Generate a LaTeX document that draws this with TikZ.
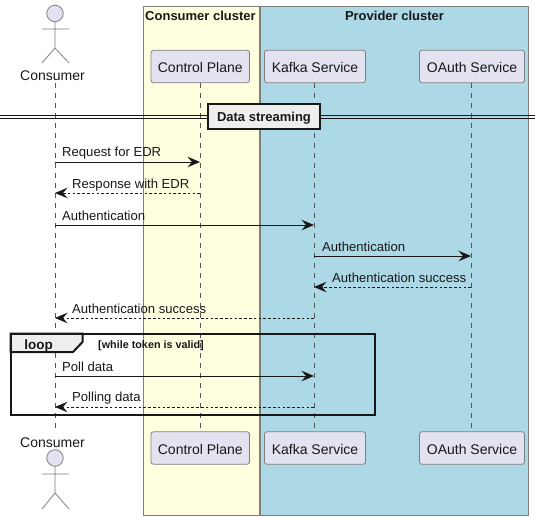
\documentclass[tikz,border=0pt]{standalone}
\usepackage{fontspec}
\setmainfont{Liberation Sans}
\usetikzlibrary{arrows.meta}
\definecolor{partfill}{HTML}{E2E2F0}
\definecolor{partline}{HTML}{7F7F7F}
\definecolor{ink}{HTML}{181818}
\definecolor{tabfill}{HTML}{EEEEEE}
\definecolor{lifeline}{HTML}{555555}
\tikzset{
  x=1pt,y=-1pt,
  boxcluster/.style={draw=partline,line width=.9pt,inner sep=0pt,anchor=north west},
  clustertitle/.style={font=\bfseries\fontsize{13}{15}\selectfont,text=ink,inner sep=0pt},
  part/.style={draw=partline,fill=partfill,rounded corners=2.5pt,line width=.8pt,inner sep=0pt,minimum height=32.5pt,text height=12pt,text depth=0pt,font=\fontsize{14}{16}\selectfont,text=ink},
  actorname/.style={font=\fontsize{14}{16}\selectfont,text=ink,inner sep=0pt},
  actorline/.style={draw=partline,line width=.8pt},
  actorhead/.style={circle,draw=partline,fill=partfill,line width=.8pt,minimum size=16.5pt,inner sep=0pt},
  life/.style={draw=lifeline,line width=.7pt,dash pattern=on 5pt off 5pt},
  tip/.style={-{Stealth[length=12.5pt,width=10.5pt,inset=4.5pt]}},
  msg/.style={draw=ink,line width=.95pt,tip},
  reply/.style={draw=ink,line width=.9pt,dash pattern=on 2.6pt off 2.2pt,tip},
  msglabel/.style={font=\fontsize{13.1}{15}\selectfont,text=ink,inner sep=0pt,anchor=west},
  frameline/.style={draw=ink,line width=2pt},
}
\begin{document}
\begin{tikzpicture}
\useasboundingbox (0,0) rectangle (535,519);
% clusters
\fill[white] (0,0) rectangle (535,519);
\node[boxcluster,fill={rgb,255:red,255;green,255;blue,224},minimum width=116pt,minimum height=508pt] (cc) at (142.5,6.5) {};
\node[boxcluster,fill={rgb,255:red,173;green,216;blue,230},minimum width=268pt,minimum height=508pt] (pc) at (260,6.5) {};
\node[clustertitle] (cct) at (200.5,16) {Consumer cluster};
\node[clustertitle] (pct) at (394.5,16) {Provider cluster};
% participants
\node[part,minimum width=98.5pt] (cp1) at (200.3,66.5) {Control Plane};
\node[part,minimum width=101pt] (ks1) at (315,66.5) {Kafka Service};
\node[part,minimum width=105pt] (os1) at (472,66.5) {OAuth Service};
\node[part,minimum width=98.5pt] (cp2) at (200.3,448) {Control Plane};
\node[part,minimum width=101pt] (ks2) at (315,448) {Kafka Service};
\node[part,minimum width=105pt] (os2) at (472,448) {OAuth Service};
% actors
\node[actorname] (c1) at (52.5,75.7) {Consumer};
\node[actorname] (c2) at (52.5,442.7) {Consumer};
\coordinate (l1) at (55,83);
\coordinate (l2) at (55,431);
\coordinate (cpt) at (200.5,82.7);
\coordinate (cpb) at (200.5,432);
\coordinate (kst) at (314,82.7);
\coordinate (ksb) at (314,432);
\coordinate (ost) at (471,82.7);
\coordinate (osb) at (471,432);
\draw[life] (l1) -- (l2);
\draw[life] (cpt) -- (cpb);
\draw[life] (kst) -- (ksb);
\draw[life] (ost) -- (osb);
\node[actorhead] (h1) at (55,13.5) {};
\coordinate (n1) at (55,48);
\draw[actorline] (h1) -- (n1) (42,29) -- (69,29) (42,63) -- (n1) -- (69,63);
\node[actorhead] (h2) at (55,458) {};
\coordinate (n2) at (55,493);
\draw[actorline] (h2) -- (n2) (42,474) -- (69,474) (42,509) -- (n2) -- (69,509);
% divider
\coordinate (dl) at (0,116.7);
\coordinate (dr) at (535,116.7);
\draw[ink,line width=1pt] ([yshift=1.4pt]dl) -- ([yshift=1.4pt]dr) ([yshift=-1.4pt]dl) -- ([yshift=-1.4pt]dr);
\node[draw=ink,fill=tabfill,line width=2pt,minimum width=112pt,minimum height=25pt,inner sep=0pt,text height=13pt,text depth=2pt,font=\bfseries\fontsize{13}{15}\selectfont,text=ink] (div) at (264,116.3) {Data streaming};
% messages
\coordinate (a) at (55,162);
\coordinate (b) at (200,162);
\draw[msg] (a) -- (b);
\node[msglabel] (t1) at (62,153.3) {Request for EDR};
\coordinate (a2) at (200,193);
\coordinate (b2) at (55,193);
\draw[reply] (a2) -- (b2);
\node[msglabel] (t2) at (72,185.3) {Response with EDR};
\coordinate (a3) at (55,225);
\coordinate (b3) at (314,225);
\draw[msg] (a3) -- (b3);
\node[msglabel] (t3) at (62,216) {Authentication};
\coordinate (a4) at (314,256);
\coordinate (b4) at (471,256);
\draw[msg] (a4) -- (b4);
\node[msglabel] (t4) at (322,247) {Authentication};
\coordinate (a5) at (471,287);
\coordinate (b5) at (314,287);
\draw[reply] (a5) -- (b5);
\node[msglabel] (t5) at (332,278) {Authentication success};
\coordinate (a6) at (314,318);
\coordinate (b6) at (55,318);
\draw[reply] (a6) -- (b6);
\node[msglabel] (t6) at (72,309) {Authentication success};
\coordinate (a7) at (55,376);
\coordinate (b7) at (314,376);
\draw[msg] (a7) -- (b7);
\node[msglabel] (t7) at (62,367) {Poll data};
\coordinate (a8) at (314,407);
\coordinate (b8) at (55,407);
\draw[reply] (a8) -- (b8);
\node[msglabel] (t8) at (72,398) {Polling data};
% loop
\draw[frameline,fill=tabfill] (10.5,333.5) -- (82.5,333.5) -- (82.5,342) -- (73,352) -- (10.5,352) -- cycle;
\draw[frameline] (10.5,333.5) rectangle (375,415);
\node[font=\bfseries\fontsize{13.5}{15}\selectfont,text=ink,inner sep=0pt] (lp) at (38.5,346) {loop};
\node[font=\bfseries\fontsize{10.8}{12}\selectfont,text=ink,inner sep=0pt,anchor=west] (cond) at (98,345.5) {[while token is valid]};
\end{tikzpicture}
\end{document}
